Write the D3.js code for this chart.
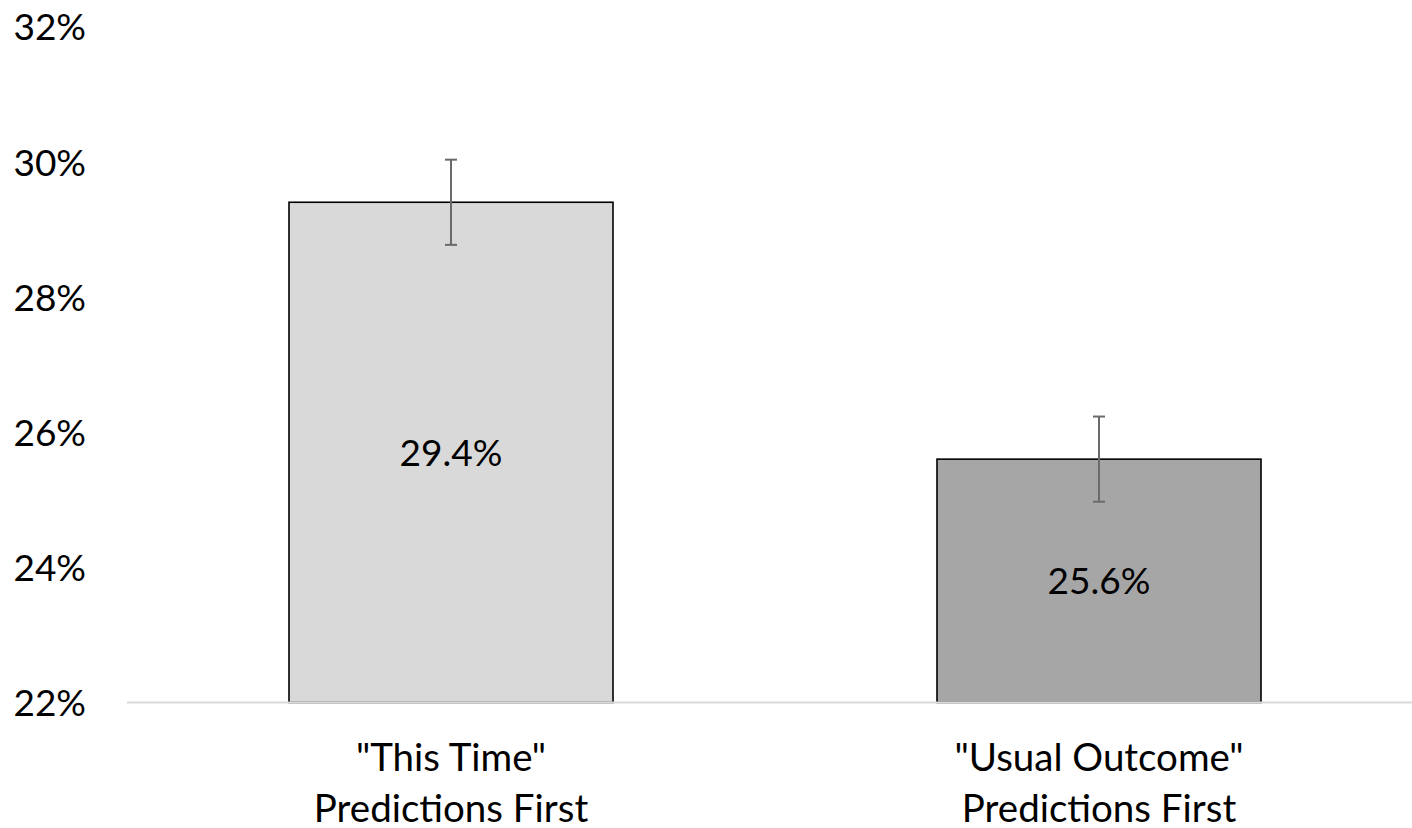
<!DOCTYPE html>
<html>
<head>
<meta charset="utf-8">
<script src="https://cdn.jsdelivr.net/npm/d3@7"></script>
<style>
  html, body { margin: 0; padding: 0; background: #ffffff; }
  svg { display: block; }
  text { font-family: Lato, "Open Sans", sans-serif; fill: #000; }
</style>
</head>
<body>
<svg id="chart" width="1412" height="828"></svg>
<script>
// ---- data ----
const categories = ['"This Time"\nPredictions First', '"Usual Outcome"\nPredictions First'];
const values = [29.4, 25.6];
const errors = [0.63, 0.63];
const valueLabels = ["29.4%", "25.6%"];
const yTicks = [22, 24, 26, 28, 30, 32];
const barColors = ["#d9d9d9", "#a6a6a6"];

// ---- layout ----
const svg = d3.select("#chart");
const x = d3.scaleBand().domain(categories).range([127, 1423]).paddingInner(0.5).paddingOuter(0.25);
const y = d3.scaleLinear().domain([22, 32]).range([702.5, 26.5]);

// y axis labels
const yAxis = d3.axisLeft(y).tickValues(yTicks).tickSize(0).tickPadding(0)
  .tickFormat(d => d + "%");
const gy = svg.append("g").attr("transform", "translate(86,0)").call(yAxis);
gy.select(".domain").remove();
gy.selectAll("text").attr("font-size", 37).attr("font-family", "Lato, 'Open Sans', sans-serif")
  .attr("fill", "#000").attr("dy", "0.36em");

// bars
const data = categories.map((c, i) => ({ c, v: values[i], e: errors[i], lab: valueLabels[i], col: barColors[i] }));
svg.selectAll("rect.bar").data(data).enter().append("rect")
  .attr("class", "bar")
  .attr("x", d => x(d.c))
  .attr("y", d => y(d.v))
  .attr("width", x.bandwidth())
  .attr("height", d => y(22) - y(d.v))
  .attr("fill", d => d.col)
  .attr("stroke", "#000")
  .attr("stroke-width", 1.6);

// baseline axis
const xAxis = d3.axisBottom(x).tickSize(0).tickFormat("");
const gx = svg.append("g").attr("transform", `translate(0,${y(22)})`).call(xAxis);
gx.select(".domain").attr("stroke", "#d9d9d9").attr("stroke-width", 2)
  .attr("d", `M${127},0H${1423}`);

// category labels (two lines)
gx.selectAll(".tick").each(function(d) {
  const lines = d.split("\n");
  const t = d3.select(this).append("text")
    .attr("text-anchor", "middle").attr("font-size", 38.5)
    .attr("font-family", "Lato, 'Open Sans', sans-serif").attr("fill", "#000");
  lines.forEach((ln, i) => {
    t.append("tspan").attr("x", 0).attr("y", 68 + i * 51).text(ln);
  });
});

// error bars
const cx = d => x(d.c) + x.bandwidth() / 2;
const eg = svg.selectAll("g.err").data(data).enter().append("g").attr("class", "err")
  .attr("stroke", "#6a6a6a").attr("stroke-width", 2);
eg.append("line").attr("x1", cx).attr("x2", cx).attr("y1", d => y(d.v + d.e)).attr("y2", d => y(d.v - d.e));
eg.append("line").attr("x1", d => cx(d) - 6).attr("x2", d => cx(d) + 6).attr("y1", d => y(d.v + d.e)).attr("y2", d => y(d.v + d.e));
eg.append("line").attr("x1", d => cx(d) - 6).attr("x2", d => cx(d) + 6).attr("y1", d => y(d.v - d.e)).attr("y2", d => y(d.v - d.e));

// value labels
svg.selectAll("text.val").data(data).enter().append("text")
  .attr("class", "val")
  .attr("x", cx)
  .attr("y", d => (y(d.v) + y(22)) / 2)
  .attr("dy", "0.36em")
  .attr("text-anchor", "middle")
  .attr("font-size", 37)
  .text(d => d.lab);
</script>
</body>
</html>
